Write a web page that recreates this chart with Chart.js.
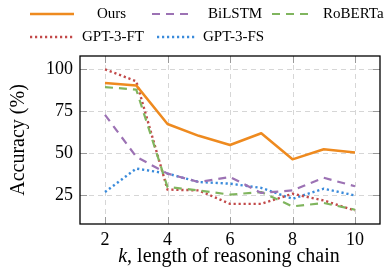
<!DOCTYPE html>
<html>
<head>
<meta charset="utf-8">
<script src="https://cdn.jsdelivr.net/npm/chart.js@4"></script>
<style>
  html, body { margin: 0; padding: 0; background: #fff; }
  #wrap { width: 392px; height: 268px; }
</style>
</head>
<body>
<div id="wrap"><canvas id="chart" width="392" height="268"></canvas></div>
<script>
// longitud de la cadena de razonamiento (k)
const chainLength = [2, 3, 4, 5, 6, 7, 8, 9, 10];

// precisión (%) de cada modelo
const ours = [92, 90.5, 67.5, 60.5, 55, 62, 46.5, 52.5, 50.5];
const bilstm = [73, 48, 38, 33, 36, 26.5, 28, 35.5, 30.5];
const roberta = [89.5, 88, 30, 28, 25.5, 27, 18.5, 20.5, 16.5];
const gpt3ft = [100, 93, 28.5, 28, 20, 20, 26, 22, 16];
const gpt3fs = [27, 41, 38, 33, 32, 29.5, 23, 29, 25];

const xTicks = [2, 4, 6, 8, 10];
const yTicks = [25, 50, 75, 100];

const serif = "'Liberation Serif', 'Times New Roman', serif";
Chart.defaults.font.family = serif;
Chart.defaults.color = '#000';

const series = [
    { label: 'Ours', data: ours, color: '#ee8a1f', dash: [], width: 2.5 },
    { label: 'BiLSTM', data: bilstm, color: '#9c72b4', dash: [8, 6], width: 2.2 },
    { label: 'RoBERTa', data: roberta, color: '#80b55e', dash: [8, 6], width: 2.2 },
    { label: 'GPT-3-FT', data: gpt3ft, color: '#c24a4a', dash: [2.2, 2.8], width: 2.4 },
    { label: 'GPT-3-FS', data: gpt3fs, color: '#3a8bdb', dash: [2.2, 2.8], width: 2.4 }
];

// posiciones de la leyenda (dos filas, como en la figura original)
const legendSlots = [
    { x: 30, y: 14, len: 44, tx: 97 },
    { x: 152, y: 14, len: 40, tx: 208 },
    { x: 272, y: 14, len: 40, tx: 323 },
    { x: 30, y: 37, len: 44, tx: 82 },
    { x: 157, y: 37, len: 40, tx: 203 }
];

// rejilla punteada, marcas internas y marco del eje
const framePlugin = {
    id: 'frame',
    beforeDatasetsDraw(chart) {
        const { ctx, chartArea: a, scales } = chart;
        ctx.save();
        ctx.strokeStyle = '#d6d6d6';
        ctx.lineWidth = 1;
        ctx.setLineDash([5, 4]);
        xTicks.forEach(v => {
            const px = Math.round(scales.x.getPixelForValue(v)) + 0.5;
            ctx.beginPath(); ctx.moveTo(px, a.top); ctx.lineTo(px, a.bottom); ctx.stroke();
        });
        yTicks.forEach(v => {
            const py = Math.round(scales.y.getPixelForValue(v)) + 0.5;
            ctx.beginPath(); ctx.moveTo(a.left, py); ctx.lineTo(a.right, py); ctx.stroke();
        });
        ctx.setLineDash([]);
        ctx.strokeStyle = '#999';
        const t = 7;
        xTicks.forEach(v => {
            const px = Math.round(scales.x.getPixelForValue(v)) + 0.5;
            ctx.beginPath(); ctx.moveTo(px, a.bottom); ctx.lineTo(px, a.bottom - t); ctx.stroke();
            ctx.beginPath(); ctx.moveTo(px, a.top); ctx.lineTo(px, a.top + t); ctx.stroke();
        });
        yTicks.forEach(v => {
            const py = Math.round(scales.y.getPixelForValue(v)) + 0.5;
            ctx.beginPath(); ctx.moveTo(a.left, py); ctx.lineTo(a.left + t, py); ctx.stroke();
            ctx.beginPath(); ctx.moveTo(a.right, py); ctx.lineTo(a.right - t, py); ctx.stroke();
        });
        ctx.restore();
    },
    afterDatasetsDraw(chart) {
        const { ctx, chartArea: a } = chart;
        ctx.save();
        ctx.strokeStyle = '#000';
        ctx.lineWidth = 1.3;
        ctx.strokeRect(a.left, a.top, a.right - a.left, a.bottom - a.top);
        ctx.restore();
    },
    afterDraw(chart) {
        const { ctx, chartArea: a } = chart;
        ctx.save();
        // leyenda
        ctx.font = '15px ' + serif;
        ctx.textBaseline = 'middle';
        ctx.fillStyle = '#000';
        series.forEach((s, i) => {
            const p = legendSlots[i];
            ctx.strokeStyle = s.color;
            ctx.lineWidth = s.width;
            ctx.setLineDash(s.dash);
            ctx.beginPath(); ctx.moveTo(p.x, p.y); ctx.lineTo(p.x + p.len, p.y); ctx.stroke();
            ctx.setLineDash([]);
            ctx.fillText(s.label, p.tx, p.y);
        });
        // título del eje x con la k en cursiva
        ctx.textBaseline = 'alphabetic';
        const italic = 'italic 20px ' + serif;
        const normal = '20px ' + serif;
        ctx.font = italic;
        const w1 = ctx.measureText('k').width;
        ctx.font = normal;
        const rest = ', length of reasoning chain';
        const w2 = ctx.measureText(rest).width;
        const cx = (a.left + a.right) / 2 - 1;
        let x0 = cx - (w1 + w2) / 2;
        const y0 = 262;
        ctx.font = italic;
        ctx.fillText('k', x0, y0);
        ctx.font = normal;
        ctx.fillText(rest, x0 + w1, y0);
        ctx.restore();
    }
};

new Chart(document.getElementById('chart'), {
    type: 'line',
    data: {
        labels: chainLength,
        datasets: series.map(s => ({
            label: s.label,
            data: chainLength.map((k, i) => ({ x: k, y: s.data[i] })),
            borderColor: s.color,
            backgroundColor: s.color,
            borderWidth: s.width,
            borderDash: s.dash,
            borderCapStyle: 'butt',
            borderJoinStyle: 'round',
            pointRadius: 0,
            fill: false,
            tension: 0
        }))
    },
    options: {
        responsive: false,
        animation: false,
        layout: { padding: { top: 56, right: 12, left: 0, bottom: 0 } },
        plugins: {
            legend: { display: false },
            tooltip: { enabled: false }
        },
        scales: {
            x: {
                type: 'linear',
                min: 1.2,
                max: 10.8,
                afterBuildTicks: axis => { axis.ticks = xTicks.map(v => ({ value: v })); },
                afterFit: axis => { axis.height = 44; },
                grid: { display: false, drawTicks: false },
                border: { display: false },
                ticks: { font: { size: 18 }, padding: 5, maxRotation: 0, autoSkip: false }
            },
            y: {
                min: 8,
                max: 108,
                afterBuildTicks: axis => { axis.ticks = yTicks.map(v => ({ value: v })); },
                afterFit: axis => { axis.width = 80; },
                grid: { display: false, drawTicks: false },
                border: { display: false },
                ticks: { font: { size: 18 }, padding: 7 },
                title: {
                    display: true,
                    text: 'Accuracy (%)',
                    font: { size: 20 },
                    padding: { top: 7, bottom: 0 }
                }
            }
        }
    },
    plugins: [framePlugin]
});
</script>
</body>
</html>
